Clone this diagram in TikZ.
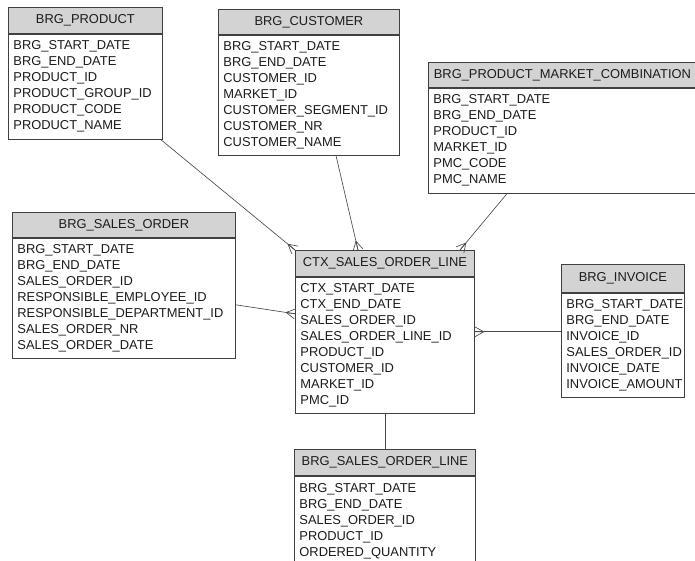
\documentclass[tikz,border=0pt]{standalone}
\usepackage{fontspec}
\setmainfont{Liberation Sans}
\usetikzlibrary{calc}

\definecolor{bordercol}{HTML}{404040}
\definecolor{hdrfill}{HTML}{D3D3D3}
\definecolor{inkcol}{HTML}{1C1C1C}
\definecolor{linecol}{HTML}{4A4A4A}

\tikzset{
  hdr/.style={draw=bordercol, fill=hdrfill, anchor=north west, inner sep=0pt,
    text=inkcol, font=\fontsize{12.9}{16}\selectfont, line width=0.8pt},
  body/.style={draw=bordercol, fill=white, anchor=north west, inner xsep=5pt,
    inner ysep=0pt, align=left, text=inkcol,
    font=\fontsize{12.9}{16}\selectfont, line width=0.8pt},
  conn/.style={draw=linecol, line width=0.65pt},
}

% entity: name, x, y, width, header height, body height, text width, title, rows
\newcommand\entity[9]{%
  \node[hdr, minimum width=#4pt, minimum height=#5pt] (#1h) at (#2,#3) {#8};
  \node[body, minimum width=#4pt, text width=#7pt, minimum height=#6pt] (#1) at (#1h.south west) {#9};
}

% crow's foot at #1 for a relationship line coming from #2
\newcommand\crowfoot[2]{%
  \draw[conn] ($(#1)!9pt!(#2)$) -- ($(#1)!5pt!90:(#2)$)
              ($(#1)!9pt!(#2)$) -- (#1)
              ($(#1)!9pt!(#2)$) -- ($(#1)!5pt!-90:(#2)$);
}

\begin{document}
\begin{tikzpicture}[x=1pt, y=-1pt]
\useasboundingbox (0,0) rectangle (695,560);
\fill[white] (0,0) rectangle (695,560);
\clip (0,0) rectangle (695,560);

\entity{prod}{8}{7}{154}{26}{105}{144}{BRG\_PRODUCT}{%
  BRG\_START\_DATE\\BRG\_END\_DATE\\PRODUCT\_ID\\PRODUCT\_GROUP\_ID\\PRODUCT\_CODE\\PRODUCT\_NAME}
\entity{cust}{218}{9}{181}{25}{120}{171}{BRG\_CUSTOMER}{%
  BRG\_START\_DATE\\BRG\_END\_DATE\\CUSTOMER\_ID\\MARKET\_ID\\CUSTOMER\_SEGMENT\_ID\\CUSTOMER\_NR\\CUSTOMER\_NAME}
\entity{pmc}{428}{62}{268}{25}{105}{258}{BRG\_PRODUCT\_MARKET\_COMBINATION}{%
  BRG\_START\_DATE\\BRG\_END\_DATE\\PRODUCT\_ID\\MARKET\_ID\\PMC\_CODE\\PMC\_NAME}
\entity{so}{12}{212}{223}{25}{120}{213}{BRG\_SALES\_ORDER}{%
  BRG\_START\_DATE\\BRG\_END\_DATE\\SALES\_ORDER\_ID\\RESPONSIBLE\_EMPLOYEE\_ID\\RESPONSIBLE\_DEPARTMENT\_ID\\SALES\_ORDER\_NR\\SALES\_ORDER\_DATE}
\entity{ctx}{295}{250}{179}{26}{136}{169}{CTX\_SALES\_ORDER\_LINE}{%
  CTX\_START\_DATE\\CTX\_END\_DATE\\SALES\_ORDER\_ID\\SALES\_ORDER\_LINE\_ID\\PRODUCT\_ID\\CUSTOMER\_ID\\MARKET\_ID\\PMC\_ID}
\entity{inv}{561}{264}{123}{28}{104}{113}{BRG\_INVOICE}{%
  BRG\_START\_DATE\\BRG\_END\_DATE\\INVOICE\_ID\\SALES\_ORDER\_ID\\INVOICE\_DATE\\INVOICE\_AMOUNT}
\entity{sol}{294}{449}{181}{26}{90}{171}{BRG\_SALES\_ORDER\_LINE}{%
  BRG\_START\_DATE\\BRG\_END\_DATE\\SALES\_ORDER\_ID\\PRODUCT\_ID\\ORDERED\_QUANTITY}

% relationship end points on the entity borders
\coordinate (prodA) at ($(prod.south east)+(-2,0)$);
\coordinate (ctxA)  at (ctxh.north west);
\coordinate (custA) at ($(cust.south west)+(118,0)$);
\coordinate (ctxB)  at ($(ctxh.north west)+(63,0)$);
\coordinate (pmcA)  at ($(pmc.south west)+(79,0)$);
\coordinate (ctxC)  at ($(ctxh.north west)+(165,0)$);
\coordinate (soA)   at ($(so.north east)+(0,67)$);
\coordinate (ctxD)  at ($(ctx.north west)+(0,37)$);
\coordinate (invA)  at ($(inv.north west)+(0,39)$);
\coordinate (ctxE)  at ($(ctx.north east)+(0,55)$);

% relationships
\draw[conn] (prodA) -- (ctxA);  \crowfoot{ctxA}{prodA}
\draw[conn] (custA) -- (ctxB);  \crowfoot{ctxB}{custA}
\draw[conn] (pmcA)  -- (ctxC);  \crowfoot{ctxC}{pmcA}
\draw[conn] (soA)   -- (ctxD);  \crowfoot{ctxD}{soA}
\draw[conn] (invA)  -- (ctxE);  \crowfoot{ctxE}{invA}
\draw[conn] (ctx.south) -- (solh.north);
\end{tikzpicture}
\end{document}
